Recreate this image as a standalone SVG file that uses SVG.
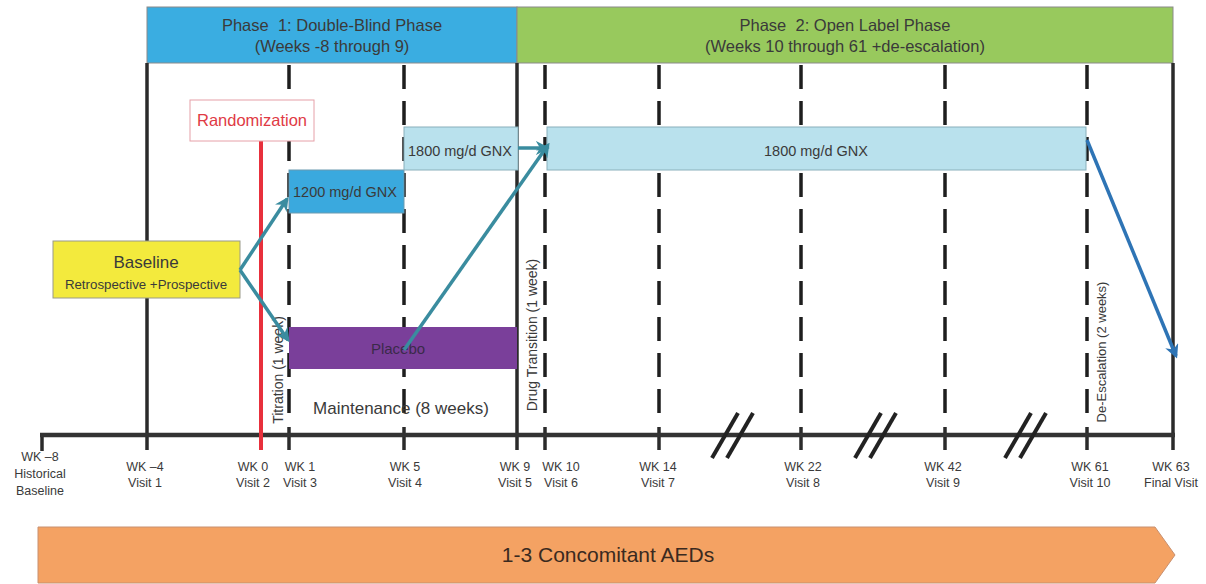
<svg xmlns="http://www.w3.org/2000/svg" width="1206" height="584" viewBox="0 0 1206 584">
<defs>
<style>
text{font-family:"Liberation Sans","Open Sans",sans-serif;fill:#3a3a3a}
.hdr{font-size:16.5px;text-anchor:middle}
.lbl{font-size:12.5px;text-anchor:middle}
.rot{font-size:14px;text-anchor:middle}
.solid{stroke:#2b2b2b;stroke-width:3.5;fill:none}
.dash{stroke:#1e1e1e;stroke-width:3.5;stroke-dasharray:24 12;fill:none}
.tick{stroke:#2b2b2b;stroke-width:3.5}
.slash{stroke:#222;stroke-width:4}
.teal{stroke:#3a8c9f;stroke-width:3.5;fill:none}
.blue{stroke:#2e74b5;stroke-width:3.5;fill:none}
</style>
<marker id="ahT" viewBox="0 0 10 10" refX="8" refY="5" markerWidth="4" markerHeight="4" orient="auto" markerUnits="strokeWidth">
<path d="M0,0 L10,5 L0,10 L3,5 z" fill="#3a8c9f"/>
</marker>
<marker id="ahB" viewBox="0 0 10 10" refX="8" refY="5" markerWidth="4" markerHeight="4" orient="auto" markerUnits="strokeWidth">
<path d="M0,0 L10,5 L0,10 L3,5 z" fill="#2e74b5"/>
</marker>
</defs>
<rect width="1206" height="584" fill="#ffffff"/>

<g id="phase1">
<rect x="147" y="7" width="370" height="56" fill="#3aade1" stroke="#8a8a8a" stroke-width="1"/>
<text class="hdr" x="332" y="31">Phase&#160; 1: Double-Blind Phase</text>
<text class="hdr" x="332" y="52">(Weeks -8 through 9)</text>
</g>
<g id="phase2">
<rect x="517" y="7" width="656" height="56" fill="#98c95d" stroke="#8a8a8a" stroke-width="1"/>
<text class="hdr" x="845" y="31">Phase&#160; 2: Open Label Phase</text>
<text class="hdr" x="845" y="52">(Weeks 10 through 61 +de-escalation)</text>
</g>

<g id="timeline">
<line class="solid" x1="147" y1="63" x2="147" y2="450"/>
<line class="solid" x1="517" y1="63" x2="517" y2="450"/>
<line class="solid" x1="1173" y1="63" x2="1173" y2="450"/>
<line class="dash" x1="289" y1="65" x2="289" y2="425"/>
<line class="dash" x1="404" y1="65" x2="404" y2="425"/>
<line class="dash" x1="545" y1="65" x2="545" y2="425"/>
<line class="dash" x1="659" y1="65" x2="659" y2="425"/>
<line class="dash" x1="801" y1="65" x2="801" y2="425"/>
<line class="dash" x1="945" y1="65" x2="945" y2="425"/>
<line class="dash" x1="1087" y1="65" x2="1087" y2="425"/>
<line class="tick" x1="42" y1="435" x2="42" y2="451"/>
<line class="tick" x1="289" y1="427" x2="289" y2="450"/>
<line class="tick" x1="404" y1="427" x2="404" y2="450"/>
<line class="tick" x1="545" y1="427" x2="545" y2="450"/>
<line class="tick" x1="659" y1="427" x2="659" y2="450"/>
<line class="tick" x1="801" y1="427" x2="801" y2="450"/>
<line class="tick" x1="945" y1="427" x2="945" y2="450"/>
<line class="tick" x1="1087" y1="427" x2="1087" y2="450"/>
<line x1="40" y1="435" x2="1175" y2="435" stroke="#333" stroke-width="4.5"/>
<line class="slash" x1="712" y1="458" x2="738" y2="413"/>
<line class="slash" x1="727" y1="458" x2="753" y2="413"/>
<line class="slash" x1="855" y1="458" x2="881" y2="413"/>
<line class="slash" x1="870" y1="458" x2="896" y2="413"/>
<line class="slash" x1="1005" y1="458" x2="1031" y2="413"/>
<line class="slash" x1="1020" y1="458" x2="1046" y2="413"/>
</g>

<g id="randomization">
<line x1="261" y1="141" x2="261" y2="450" stroke="#e8303c" stroke-width="4"/>
<rect x="190" y="100" width="124" height="41" fill="#ffffff" stroke="#e6a0a8" stroke-width="1"/>
<text x="252" y="126" font-size="16.5" text-anchor="middle" style="fill:#e03a45">Randomization</text>
</g>

<g id="gnx1200">
<rect x="289" y="170" width="115" height="43" fill="#3aa9de" stroke="#6a9ab0" stroke-width="1"/>
<text x="293" y="197" font-size="14.5">1200 mg/d GNX</text>
</g>
<g id="gnx1800a">
<rect x="404" y="127" width="114" height="43" fill="#b9e1ed" stroke="#8ab0bb" stroke-width="1"/>
<text x="408" y="156" font-size="14.5">1800 mg/d GNX</text>
</g>
<g id="gnx1800b">
<rect x="547" y="127" width="539" height="43" fill="#b9e1ed" stroke="#8ab0bb" stroke-width="1"/>
<text x="816" y="156" font-size="14.5" text-anchor="middle">1800 mg/d GNX</text>
</g>
<g id="placebo">
<rect x="289" y="327" width="228" height="42" fill="#7a3f9a"/>
<text x="398" y="354" font-size="15" text-anchor="middle" style="fill:#3a2a4a">Placebo</text>
</g>
<g id="baseline">
<rect x="53" y="241" width="187" height="57" fill="#f3ea3d" stroke="#9a9a8a" stroke-width="1"/>
<text x="146" y="268" font-size="17" text-anchor="middle">Baseline</text>
<text x="146" y="289" font-size="13.3" text-anchor="middle">Retrospective +Prospective</text>
</g>

<g id="notes">
<text class="rot" transform="translate(283,370) rotate(-90)">Titration (1 week)</text>
<text class="rot" transform="translate(537,335) rotate(-90)">Drug Transition (1 week)</text>
<text class="rot" font-size="13" transform="translate(1106,352) rotate(-90)" style="font-size:13px">De-Escalation (2 weeks)</text>
<text x="401" y="414" font-size="17" text-anchor="middle">Maintenance (8 weeks)</text>
</g>

<g id="labels">
<text class="lbl" x="40" y="461">WK –8</text>
<text class="lbl" x="40" y="478">Historical</text>
<text class="lbl" x="40" y="495">Baseline</text>
<text class="lbl" x="145" y="471">WK –4</text>
<text class="lbl" x="145" y="487">Visit 1</text>
<text class="lbl" x="253" y="471">WK 0</text>
<text class="lbl" x="253" y="487">Visit 2</text>
<text class="lbl" x="300" y="471">WK 1</text>
<text class="lbl" x="300" y="487">Visit 3</text>
<text class="lbl" x="405" y="471">WK 5</text>
<text class="lbl" x="405" y="487">Visit 4</text>
<text class="lbl" x="515" y="471">WK 9</text>
<text class="lbl" x="515" y="487">Visit 5</text>
<text class="lbl" x="561" y="471">WK 10</text>
<text class="lbl" x="561" y="487">Visit 6</text>
<text class="lbl" x="658" y="471">WK 14</text>
<text class="lbl" x="658" y="487">Visit 7</text>
<text class="lbl" x="803" y="471">WK 22</text>
<text class="lbl" x="803" y="487">Visit 8</text>
<text class="lbl" x="943" y="471">WK 42</text>
<text class="lbl" x="943" y="487">Visit 9</text>
<text class="lbl" x="1090" y="471">WK 61</text>
<text class="lbl" x="1090" y="487">Visit 10</text>
<text class="lbl" x="1171" y="471">WK 63</text>
<text class="lbl" x="1171" y="487">Final Visit</text>
</g>

<g id="connectors">
<line class="teal" x1="240" y1="270" x2="287" y2="199" marker-end="url(#ahT)"/>
<line class="teal" x1="240" y1="270" x2="288" y2="340" marker-end="url(#ahT)"/>
<line class="teal" x1="404" y1="350" x2="548" y2="145" marker-end="url(#ahT)"/>
<line class="teal" x1="518" y1="148" x2="547" y2="148" marker-end="url(#ahT)"/>
<line class="blue" x1="1087" y1="140" x2="1176" y2="356" marker-end="url(#ahB)"/>
</g>

<g id="aeds">
<polygon points="38,527 1155,527 1175,555 1155,583 38,583" fill="#f4a263" stroke="#c89070" stroke-width="1"/>
<text x="608" y="562" font-size="21" text-anchor="middle" style="fill:#3a2a20">1-3 Concomitant AEDs</text>
</g>
</svg>
